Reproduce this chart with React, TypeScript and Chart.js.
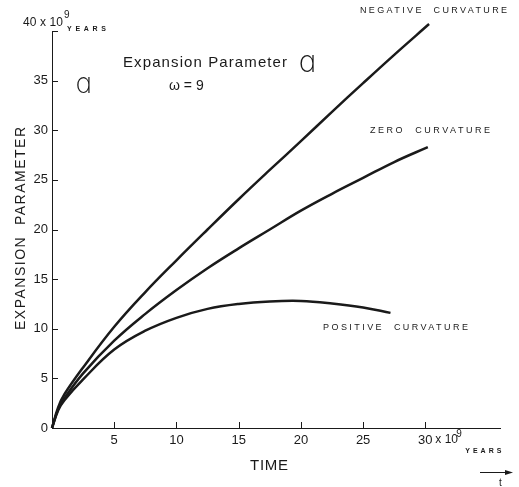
import React, { useEffect, useRef } from "react";
import { Chart, registerables } from "chart.js";

Chart.register(...registerables);

// Time in units of 10^9 years
const negativeTime = [0, 0.5, 1, 2.5, 5, 7.5, 10, 12.5, 15, 17.5, 20, 22.5, 25, 27.5, 30.3];
const negativeA = [0, 2.1, 3.4, 6.1, 10.2, 13.7, 16.9, 20.0, 23.05, 26.0, 28.9, 31.85, 34.75, 37.6, 40.7];

const zeroTime = [0, 0.5, 1, 2.5, 5, 7.5, 10, 12.5, 15, 17.5, 20, 22.5, 25, 27.5, 30.2];
const zeroA = [0, 1.9, 3.0, 5.5, 8.8, 11.5, 13.9, 16.1, 18.1, 20.0, 21.9, 23.6, 25.2, 26.8, 28.3];

const positiveTime = [0, 0.5, 1, 2.5, 5, 7.5, 10, 12.5, 15, 17.5, 20, 22.5, 25, 27.2];
const positiveA = [0, 1.8, 2.8, 4.9, 7.9, 9.8, 11.1, 12.0, 12.5, 12.75, 12.8, 12.55, 12.15, 11.6];

const seriesNames = ["NEGATIVE  CURVATURE", "ZERO  CURVATURE", "POSITIVE  CURVATURE"];
const xTickValues = [5, 10, 15, 20, 25, 30];
const yTickValues = [5, 10, 15, 20, 25, 30, 35, 40];

const INK = "#1a1a1a";
const FONT = "'Liberation Sans', Arial, sans-serif";

function pts(xs: number[], ys: number[]) {
  return xs.map((x, i) => ({ x, y: ys[i] }));
}

function fitText(
  ctx: CanvasRenderingContext2D,
  text: string,
  x: number,
  y: number,
  font: string,
  targetWidth: number
) {
  ctx.font = font;
  (ctx as any).letterSpacing = "0px";
  const w = ctx.measureText(text).width;
  const n = Math.max(text.length - 1, 1);
  const ls = Math.max((targetWidth - w) / n, 0);
  (ctx as any).letterSpacing = ls.toFixed(2) + "px";
  ctx.fillText(text, x, y);
  (ctx as any).letterSpacing = "0px";
}

const decorPlugin = {
  id: "decor",
  afterDraw(chart: any) {
    const ctx: CanvasRenderingContext2D = chart.ctx;
    const xs = chart.scales.x;
    const ys = chart.scales.y;
    const area = chart.chartArea;
    ctx.save();
    ctx.strokeStyle = INK;
    ctx.fillStyle = INK;
    ctx.lineWidth = 1;
    // inward tick marks
    ctx.beginPath();
    xTickValues.forEach((v) => {
      const px = Math.round(xs.getPixelForValue(v)) + 0.5;
      ctx.moveTo(px, area.bottom);
      ctx.lineTo(px, area.bottom - 6);
    });
    yTickValues.forEach((v) => {
      const py = Math.round(ys.getPixelForValue(v)) + 0.5;
      ctx.moveTo(area.left, py);
      ctx.lineTo(area.left + 6, py);
    });
    ctx.stroke();

    ctx.textBaseline = "alphabetic";
    ctx.textAlign = "left";

    // y-axis top unit label
    fitText(ctx, "40 x 10", 23, 26, `12px ${FONT}`, 40);
    ctx.font = `10px ${FONT}`;
    ctx.fillText("9", 64, 18);
    fitText(ctx, "YEARS", 67, 31, `bold 7px ${FONT}`, 39);

    // x-axis unit suffix after the 30 label
    const x30 = xs.getPixelForValue(30);
    const tickY = area.bottom + 15;
    fitText(ctx, "x 10", x30 + 10, tickY, `12px ${FONT}`, 20);
    ctx.font = `10px ${FONT}`;
    ctx.fillText("9", x30 + 31, tickY - 6);
    fitText(ctx, "YEARS", x30 + 40, tickY + 10, `bold 7px ${FONT}`, 36);

    // title
    fitText(ctx, "Expansion Parameter", 123, 67, `15px ${FONT}`, 164);
    ctx.font = `300 30px 'DejaVu Sans', sans-serif`;
    ctx.fillText("ɑ", 297, 72);
    ctx.font = `300 28px 'DejaVu Sans', sans-serif`;
    ctx.fillText("ɑ", 74, 93);
    ctx.font = `14px ${FONT}`;
    ctx.fillText("ω = 9", 169, 90);

    // curve labels
    fitText(ctx, seriesNames[0], 360, 13, `9px ${FONT}`, 147);
    fitText(ctx, seriesNames[1], 370, 133, `9px ${FONT}`, 120);
    fitText(ctx, seriesNames[2], 323, 330, `9px ${FONT}`, 145);

    // axis titles
    ctx.save();
    ctx.translate(25, 330);
    ctx.rotate(-Math.PI / 2);
    fitText(ctx, "EXPANSION  PARAMETER", 0, 0, `14px ${FONT}`, 203);
    ctx.restore();
    fitText(ctx, "TIME", 250, 470, `15px ${FONT}`, 38);

    // arrow with t
    ctx.beginPath();
    ctx.moveTo(480, 472.5);
    ctx.lineTo(508, 472.5);
    ctx.stroke();
    ctx.beginPath();
    ctx.moveTo(513, 472.5);
    ctx.lineTo(505, 470);
    ctx.lineTo(505, 475);
    ctx.closePath();
    ctx.fill();
    ctx.font = `10px ${FONT}`;
    ctx.fillText("t", 499, 486);
    ctx.restore();
  },
};

export default function App() {
  const ref = useRef<HTMLCanvasElement>(null);
  useEffect(() => {
    if (!ref.current) return;
    const line = (data: { x: number; y: number }[], label: string) => ({
      label,
      data,
      borderColor: INK,
      borderWidth: 2.5,
      pointRadius: 0,
      fill: false,
      clip: false as any,
      tension: 0.4,
    });
    const chart = new Chart(ref.current, {
      type: "line",
      data: {
        datasets: [
          line(pts(negativeTime, negativeA), seriesNames[0]),
          line(pts(zeroTime, zeroA), seriesNames[1]),
          line(pts(positiveTime, positiveA), seriesNames[2]),
        ],
      },
      options: {
        animation: false,
        responsive: true,
        maintainAspectRatio: false,
        layout: { padding: { left: 8, right: 19, top: 31, bottom: 0 } },
        plugins: { legend: { display: false }, tooltip: { enabled: false } },
        scales: {
          x: {
            type: "linear",
            min: 0,
            max: 36,
            grid: { display: false, drawTicks: false },
            border: { color: INK, width: 1 },
            ticks: {
              stepSize: 5,
              padding: 5,
              color: INK,
              font: { size: 13, family: FONT },
              callback: (v: any) => (v > 0 && v <= 30 ? String(v) : ""),
            },
            afterFit: (s: any) => {
              s.height = 59;
            },
          },
          y: {
            type: "linear",
            min: 0,
            max: 40,
            grid: { display: false, drawTicks: false },
            border: { color: INK, width: 1 },
            ticks: {
              stepSize: 5,
              padding: 4,
              color: INK,
              font: { size: 13, family: FONT },
              callback: (v: any) => (v < 40 ? String(v) : ""),
            },
            afterFit: (s: any) => {
              s.width = 44;
            },
          },
        },
      },
      plugins: [decorPlugin],
    });
    return () => chart.destroy();
  }, []);
  return (
    <div style={{ position: "fixed", left: 0, top: 0, width: 519, height: 487, background: "#fff" }}>
      <canvas ref={ref} />
    </div>
  );
}
